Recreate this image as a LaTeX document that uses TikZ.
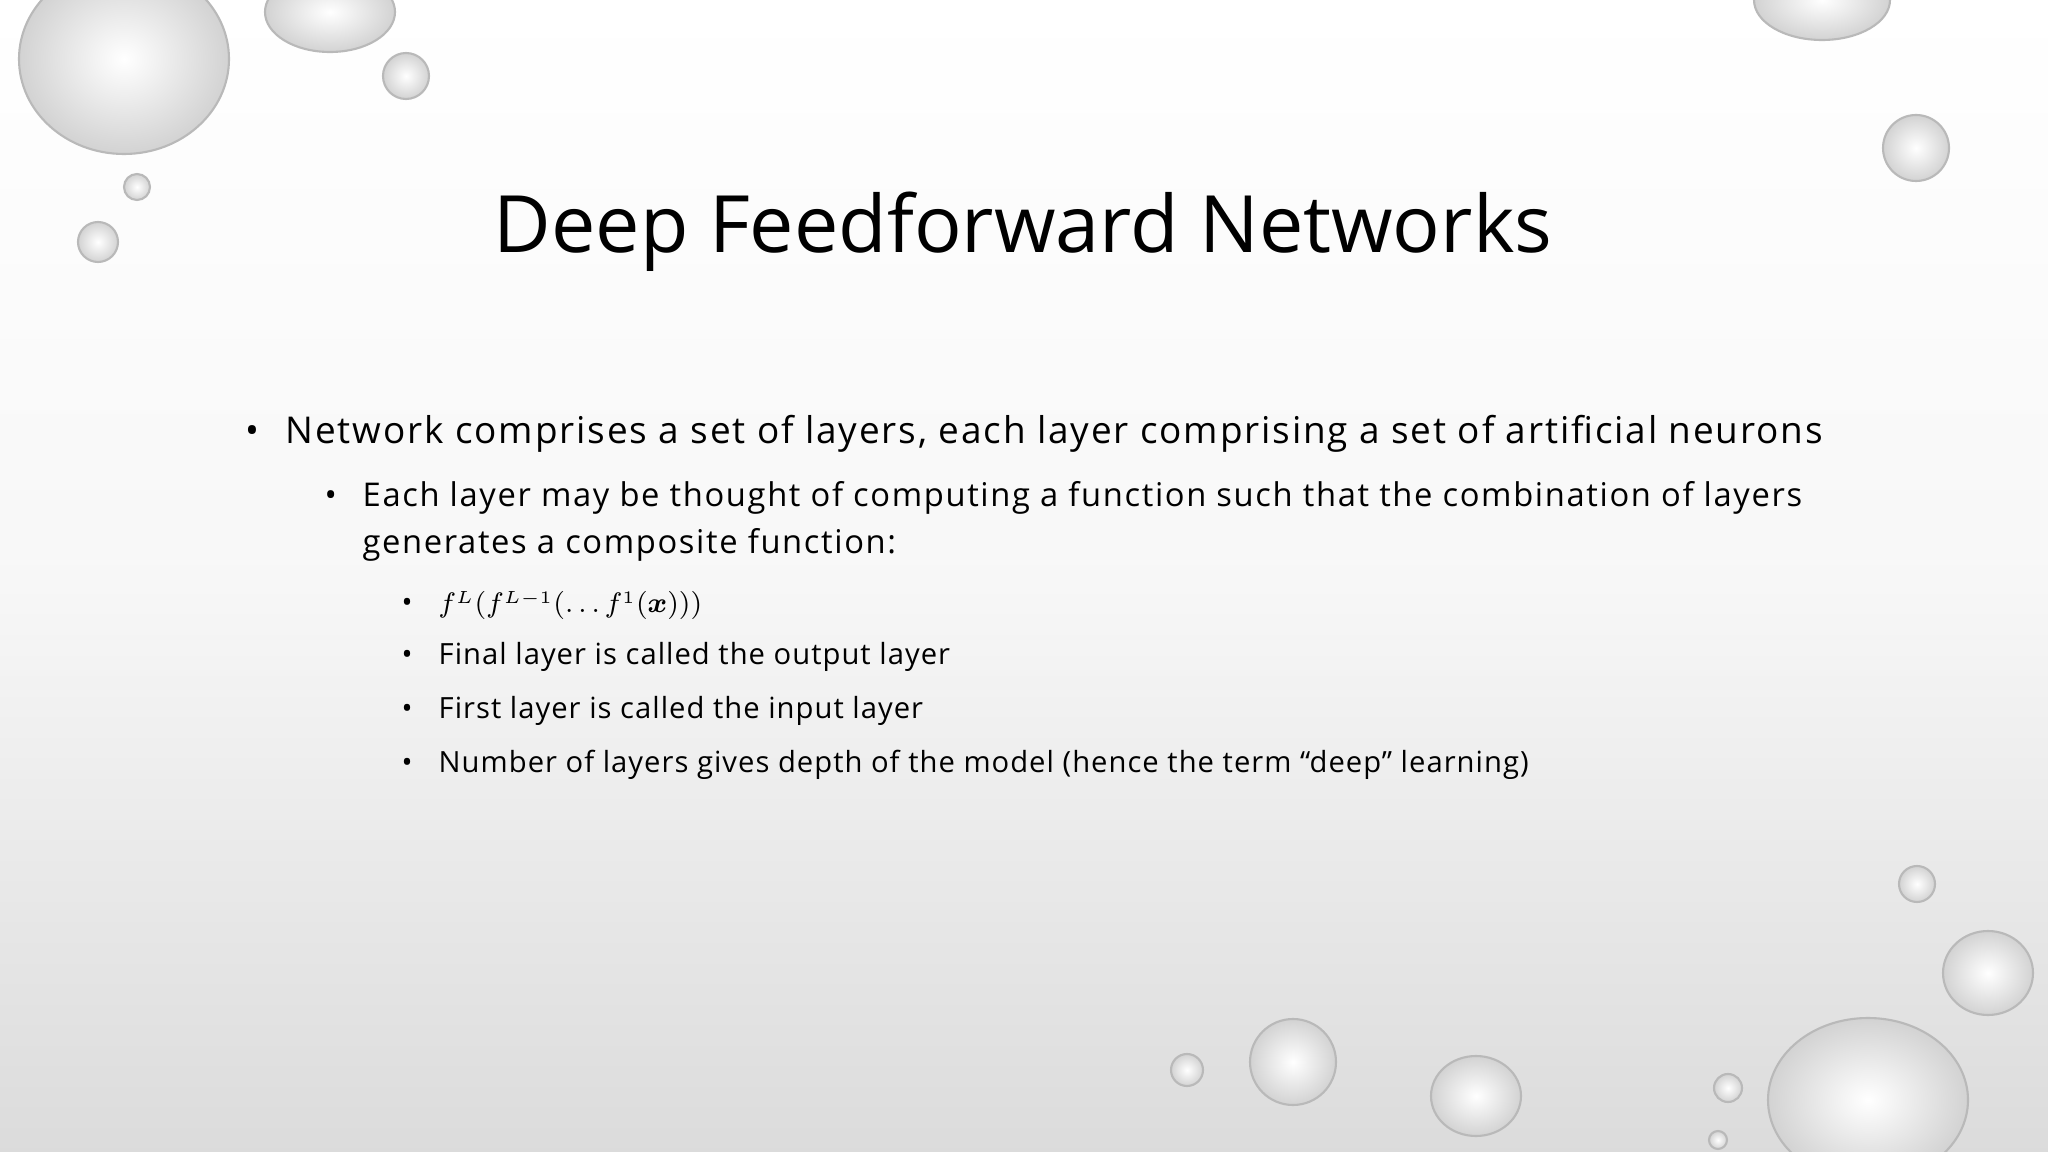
\documentclass[tikz,border=0pt]{standalone}
\usepackage{bm}
\usepackage{fontspec}
\setmainfont{Open Sans}
\newfontfamily\spacedA[LetterSpace=5]{Open Sans}
\newfontfamily\spacedB[LetterSpace=3.5]{Open Sans}
\begin{document}
\begin{tikzpicture}[x=0.01cm,y=-0.01cm,
  drop/.style={shade,inner color=white,outer color=gray!35,draw=gray!55,line width=0.6pt},
  lvlone/.style={anchor=base west,inner sep=0pt,font=\spacedA\fontsize{10.5}{12}\selectfont},
  lvltwo/.style={anchor=base west,inner sep=0pt,font=\spacedA\fontsize{9.3}{11}\selectfont},
  lvlthree/.style={anchor=base west,inner sep=0pt,font=\spacedB\fontsize{8.3}{10}\selectfont}]
\useasboundingbox (0,0) rectangle (2048,1152);
\shade[top color=white,bottom color=gray!28,middle color=gray!6] (0,0) rectangle (2048,1152);
% droplets
\path[drop] (124,59) ellipse (105 and 95);
\path[drop] (330,12) ellipse (65 and 40);
\path[drop] (406,76) circle (23);
\path[drop] (137,187) circle (13);
\path[drop] (98,242) circle (20);
\path[drop] (1822,0) ellipse (68 and 40);
\path[drop] (1916,148) circle (33);
\path[drop] (1917,884) circle (18);
\path[drop] (1988,973) ellipse (45 and 42);
\path[drop] (1868,1100) ellipse (100 and 82);
\path[drop] (1728,1088) circle (14);
\path[drop] (1718,1140) circle (9);
\path[drop] (1293,1062) circle (43);
\path[drop] (1187,1070) circle (16);
\path[drop] (1476,1096) ellipse (45 and 40);
% text
\node[anchor=base,inner sep=0pt,font=\fontsize{22.5}{26}\selectfont] (title) at (1023,253) {Deep Feedforward Networks};
\node[lvlone] (b1) at (245,444) {•};
\node[lvlone] (t1) at (285,444) {Network comprises a set of layers, each layer comprising a set of artificial neurons};
\node[lvltwo] (b2) at (324,507) {•};
\node[lvltwo] (t2a) at (362,507) {Each layer may be thought of computing a function such that the combination of layers};
\node[lvltwo] (t2b) at (362,554) {generates a composite function:};
\node[lvlthree] (b3a) at (401,613) {•};
\node[lvlthree,font=\fontsize{7.6}{9}\selectfont] (t3a) at (438,613) {$f^L(f^{L-1}(\ldots f^1(\bm{x})))$};
\node[lvlthree] (b3b) at (401,665) {•};
\node[lvlthree] (t3b) at (438,665) {Final layer is called the output layer};
\node[lvlthree] (b3c) at (401,718) {•};
\node[lvlthree] (t3c) at (438,718) {First layer is called the input layer};
\node[lvlthree] (b3d) at (401,772) {•};
\node[lvlthree] (t3d) at (438,772) {Number of layers gives depth of the model (hence the term “deep” learning)};
\end{tikzpicture}
\end{document}
